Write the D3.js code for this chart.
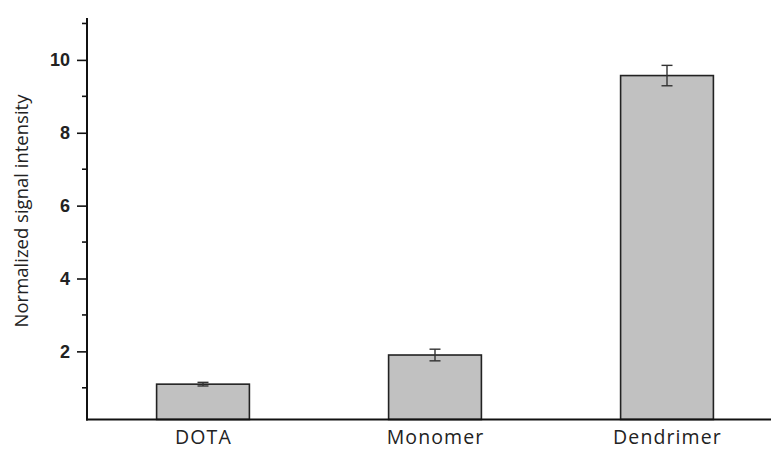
<!DOCTYPE html>
<html>
<head>
<meta charset="utf-8">
<script src="https://cdn.jsdelivr.net/npm/d3@7"></script>
<style>
  html, body { margin: 0; padding: 0; background: #fff; }
  svg { display: block; }
</style>
</head>
<body>
<svg id="chart" width="771" height="449"></svg>
<script>
// Signal intensity per agent, normalized to DOTA
const categories = ["DOTA", "Monomer", "Dendrimer"];
const values = [1.10, 1.90, 9.57];
const errors = [0.05, 0.16, 0.28];
const majorTicks = [2, 4, 6, 8, 10];
const minorTicks = [1, 3, 5, 7, 9, 11];

const svg = d3.select("#chart");
const plotLeft = 87, plotTop = 18, plotBottom = 419.5;

const x = d3.scaleBand()
  .domain(categories)
  .range([plotLeft, plotLeft + 3 * 232])
  .paddingInner(0.6)
  .paddingOuter(0.3);

const y = d3.scaleLinear()
  .domain([0.13, 11.15])
  .range([plotBottom, plotTop]);

// bars
svg.append("g")
  .selectAll("rect")
  .data(categories)
  .join("rect")
  .attr("x", d => x(d))
  .attr("y", (d, i) => y(values[i]))
  .attr("width", x.bandwidth())
  .attr("height", (d, i) => plotBottom - y(values[i]))
  .attr("fill", "#c1c1c1")
  .attr("stroke", "#222")
  .attr("stroke-width", 1.6);

// error bars
const eb = svg.append("g").attr("stroke", "#333").attr("stroke-width", 1.4);
categories.forEach((c, i) => {
  const cx = x(c) + x.bandwidth() / 2;
  const y1 = y(values[i] + errors[i]);
  const y2 = y(values[i] - errors[i]);
  eb.append("line").attr("x1", cx).attr("x2", cx).attr("y1", y1).attr("y2", y2);
  eb.append("line").attr("x1", cx - 5.5).attr("x2", cx + 5.5).attr("y1", y1).attr("y2", y1);
  eb.append("line").attr("x1", cx - 5.5).attr("x2", cx + 5.5).attr("y1", y2).attr("y2", y2);
});

// y axis with major and minor ticks
const yAxis = d3.axisLeft(y)
  .tickValues(majorTicks)
  .tickSize(10)
  .tickPadding(7)
  .tickFormat(d3.format("d"));
const gy = svg.append("g")
  .attr("transform", `translate(${plotLeft},0)`)
  .call(yAxis);
gy.select(".domain").remove();
gy.selectAll(".tick line").attr("stroke", "#111").attr("stroke-width", 1.6);
gy.selectAll(".tick text")
  .attr("fill", "#222")
  .style("font-family", "'Liberation Sans', Arial, sans-serif")
  .style("font-weight", "bold")
  .style("font-size", "18px");

svg.append("g")
  .selectAll("line")
  .data(minorTicks)
  .join("line")
  .attr("x1", plotLeft - 5).attr("x2", plotLeft)
  .attr("y1", d => y(d)).attr("y2", d => y(d))
  .attr("stroke", "#111").attr("stroke-width", 1.6);

// axis lines
svg.append("line")
  .attr("x1", plotLeft).attr("x2", plotLeft)
  .attr("y1", plotTop).attr("y2", plotBottom + 1)
  .attr("stroke", "#111").attr("stroke-width", 2);
svg.append("line")
  .attr("x1", plotLeft - 1).attr("x2", 771)
  .attr("y1", plotBottom).attr("y2", plotBottom)
  .attr("stroke", "#111").attr("stroke-width", 2);

// category labels
svg.append("g")
  .selectAll("text")
  .data(categories)
  .join("text")
  .attr("x", d => x(d) + x.bandwidth() / 2 + 0.5)
  .attr("y", 444)
  .attr("text-anchor", "middle")
  .attr("fill", "#222")
  .style("font-family", "'Open Sans', sans-serif")
  .style("font-size", "19.5px")
  .style("letter-spacing", "1.1px")
  .text(d => d);

// y axis title
svg.append("text")
  .attr("transform", "translate(28,211) rotate(-90)")
  .attr("text-anchor", "middle")
  .attr("fill", "#222")
  .style("font-family", "'Open Sans', sans-serif")
  .style("font-size", "18.5px")
  .text("Normalized signal intensity");
</script>
</body>
</html>
